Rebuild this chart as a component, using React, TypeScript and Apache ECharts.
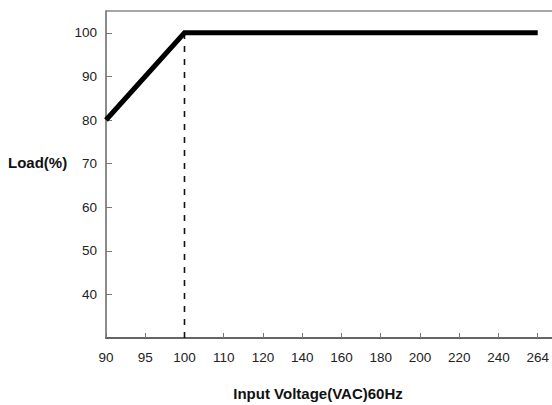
import React, { useEffect, useRef } from "react";
import * as echarts from "echarts";

const categories = ["90", "95", "100", "110", "120", "140", "160", "180", "200", "220", "240", "264"];
const loadTicks = [40, 50, 60, 70, 80, 90, 100];
const curveVoltage = ["90", "100", "264"];
const curveLoad = [80, 100, 100];
const dropVoltage = "100";
const yMin = 30;
const yMax = 105;
const xTitle = "Input Voltage(VAC)60Hz";
const yTitle = "Load(%)";

const numFont = "'Liberation Sans Narrow', 'Arial Narrow', 'Liberation Sans', Arial, sans-serif";
const boldFont = "'Liberation Sans', Arial, sans-serif";

export default function App() {
  const ref = useRef<HTMLDivElement>(null);
  useEffect(() => {
    document.body.style.margin = "0";
    const chart = echarts.init(ref.current!, null, { renderer: "svg" });
    const idx = (v: string) => categories.indexOf(v);
    const curve = curveVoltage.map((v, i) => [idx(v), curveLoad[i]]);
    const drop = [
      [idx(dropVoltage), yMin],
      [idx(dropVoltage), curveLoad[curveVoltage.indexOf(dropVoltage)]],
    ];
    const catIdx = categories.map((_, i) => i);
    chart.setOption({
      animation: false,
      backgroundColor: "#ffffff",
      grid: { left: 106, top: 11, right: 0, bottom: 67, containLabel: false },
      xAxis: {
        type: "value",
        min: 0,
        max: 11.36,
        interval: 1,
        axisLine: { show: true, lineStyle: { color: "#333", width: 1.5 } },
        axisTick: {
          show: true,
          inside: true,
          length: 5,
          customValues: catIdx,
          lineStyle: { color: "#777", width: 1 },
        },
        axisLabel: {
          customValues: catIdx,
          formatter: (v: number) => categories[Math.round(v)] ?? "",
          margin: 12,
          fontFamily: numFont,
          fontSize: 13.5,
          color: "#222",
        },
        splitLine: { show: false },
      },
      yAxis: {
        type: "value",
        min: yMin,
        max: yMax,
        interval: 10,
        axisLine: { show: true, lineStyle: { color: "#666", width: 1.5 } },
        axisTick: {
          show: true,
          inside: true,
          length: 6,
          customValues: loadTicks,
          lineStyle: { color: "#777", width: 1 },
        },
        axisLabel: {
          customValues: loadTicks,
          margin: 9,
          fontFamily: numFont,
          fontSize: 13.5,
          color: "#222",
        },
        splitLine: { show: false },
      },
      graphic: [
        {
          type: "line",
          shape: { x1: 106, y1: 11, x2: 552, y2: 11 },
          style: { stroke: "#8a8a8a", lineWidth: 1.5 },
        },
        {
          type: "text",
          left: 8,
          top: 155,
          style: { text: yTitle, font: `bold 15px ${boldFont}`, fill: "#111" },
        },
        {
          type: "text",
          x: 318,
          y: 393,
          style: {
            text: xTitle,
            font: `bold 15px ${boldFont}`,
            fill: "#111",
            align: "center",
            verticalAlign: "middle",
          },
        },
      ],
      series: [
        {
          type: "line",
          data: drop,
          symbol: "none",
          lineStyle: { color: "#111", width: 1.6, type: [6, 7] },
          z: 2,
        },
        {
          type: "line",
          data: curve,
          symbol: "none",
          lineStyle: { color: "#000", width: 5, cap: "butt", join: "miter" },
          z: 3,
        },
      ],
    });
    return () => chart.dispose();
  }, []);
  return <div ref={ref} style={{ width: 552, height: 405 }} />;
}
